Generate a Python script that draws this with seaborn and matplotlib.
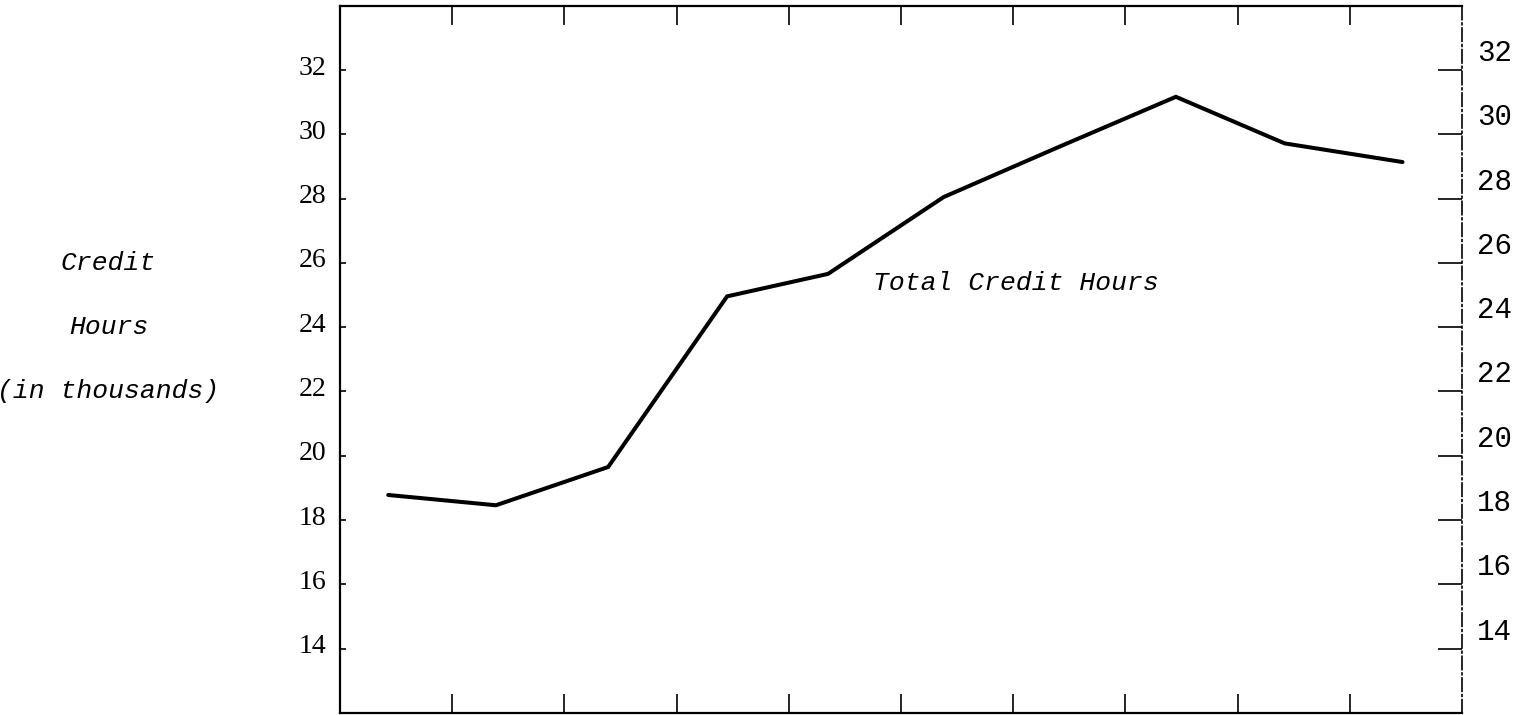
import numpy as np
import pandas as pd
import matplotlib
matplotlib.use("Agg")
import matplotlib.pyplot as plt
import matplotlib.transforms as mtransforms
import seaborn as sns

# Data (credit hours, in thousands)
period = [0.43, 1.39, 2.39, 3.45, 4.35, 5.38, 6.40, 7.45, 8.42, 9.47]
hours = [18.78, 18.46, 19.65, 24.96, 25.66, 28.05, 29.60, 31.17, 29.72, 29.14]
y_ticks = [14, 16, 18, 20, 22, 24, 26, 28, 30, 32]
x_ticks = [1, 2, 3, 4, 5, 6, 7, 8, 9]
ylabel_lines = ["Credit", "Hours", "(in thousands)"]
ylabel_levels = [26, 24, 22]
series_label = "Total Credit Hours"

df = pd.DataFrame({"period": period, "hours": hours})

sns.set_style("white")
plt.rcParams["font.family"] = ["Liberation Serif", "DejaVu Sans"]
plt.rcParams["text.color"] = "black"
plt.rcParams["ytick.color"] = "black"
plt.rcParams["xtick.color"] = "black"

fig = plt.figure(figsize=(15.28, 7.15), dpi=100)
ax = fig.add_axes([0.2225, 0.003, 0.7343, 0.9888])

sns.lineplot(data=df, x="period", y="hours", ax=ax, color="black",
             linewidth=2.9, solid_joinstyle="miter")

ax.set_xlim(0, 10)
ax.set_ylim(12, 34)
ax.set_xlabel("")
ax.set_ylabel("")

# frame
for side in ["left", "top", "bottom"]:
    ax.spines[side].set_color("black")
    ax.spines[side].set_linewidth(1.6)
ax.spines["right"].set_color("black")
ax.spines["right"].set_linewidth(1.2)
ax.spines["right"].set_linestyle((0, (8, 2, 1, 2)))

# x ticks on top and bottom, pointing inward, no labels
ax.set_xticks(x_ticks)
ax.tick_params(axis="x", which="major", direction="in", length=14, width=1.2,
               top=True, bottom=True, labelbottom=False, labeltop=False)

# left axis: serif labels, tiny inward ticks
ax.set_yticks(y_ticks)
ax.set_yticklabels([str(v) for v in y_ticks])
ax.tick_params(axis="y", which="major", direction="in", length=4, width=1.2,
               left=True, right=False, labelsize=20, pad=10,
               labelcolor="black")
up_left = mtransforms.ScaledTranslation(0, 0.05, fig.dpi_scale_trans)
for lab in ax.get_yticklabels():
    lab.set_transform(lab.get_transform() + up_left)

# right axis: typewriter labels, longer inward ticks
ax2 = ax.twinx()
ax2.set_ylim(ax.get_ylim())
ax2.set_yticks(y_ticks)
ax2.set_yticklabels([str(v) for v in y_ticks], family="Liberation Mono")
ax2.tick_params(axis="y", which="major", direction="in", length=17, width=1.2,
                labelsize=21, pad=11, labelcolor="black")
for side in ax2.spines:
    ax2.spines[side].set_visible(False)
up_right = mtransforms.ScaledTranslation(0, 0.2, fig.dpi_scale_trans)
for lab in ax2.get_yticklabels():
    lab.set_transform(lab.get_transform() + up_right)

# series label
ax.text(4.75, 25.39, series_label, fontsize=19, style="italic",
        family="Liberation Mono", ha="left", va="center")

# axis title, three lines to the left
trans = mtransforms.blended_transform_factory(fig.transFigure, ax.transData)
for line, lvl in zip(ylabel_lines, ylabel_levels):
    ax.text(0.071, lvl, line, transform=trans, fontsize=19, style="italic",
            family="Liberation Mono", ha="center", va="center")

fig.savefig("out.png", dpi=100)
